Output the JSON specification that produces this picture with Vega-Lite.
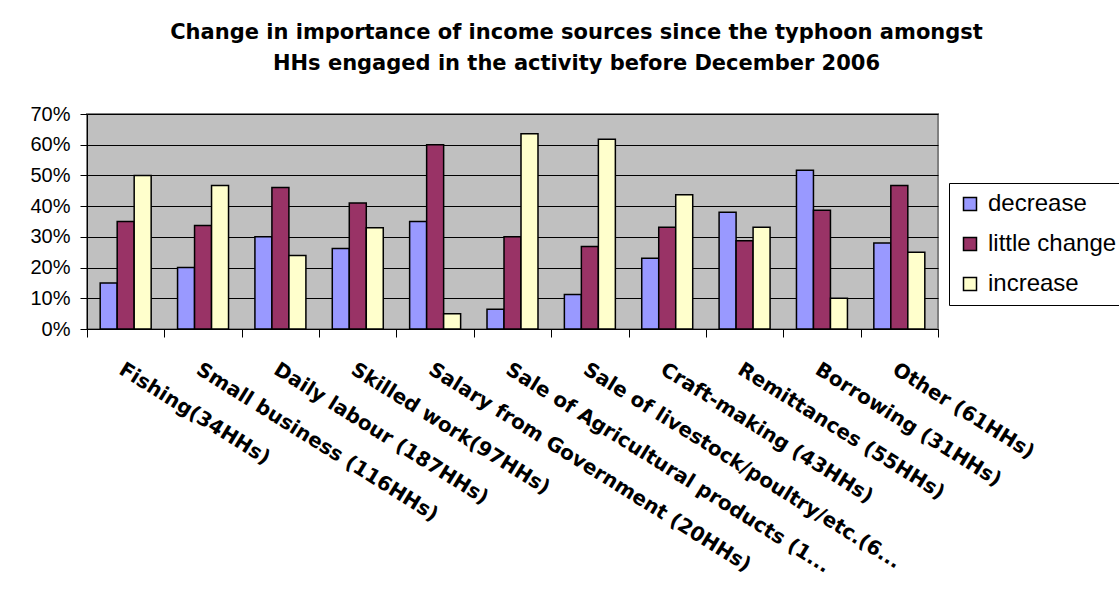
{
  "$schema": "https://vega.github.io/schema/vega-lite/v6.json",
  "width": 851,
  "height": 215,
  "autosize": {"type": "none"},
  "padding": {"left": 87, "top": 114, "right": 181, "bottom": 280},
  "background": "white",
  "title": {
    "text": ["Change in importance of income sources since the typhoon amongst", "HHs engaged in the activity before December 2006"],
    "font": "DejaVu Sans",
    "fontSize": 21,
    "fontWeight": "bold",
    "color": "black",
    "lineHeight": 31,
    "anchor": "middle",
    "dx": 64,
    "offset": 30
  },
  "data": {
    "values": [
      {"source": "Fishing(34HHs)", "change": "decrease", "share": 0.15},
      {"source": "Fishing(34HHs)", "change": "little change", "share": 0.35},
      {"source": "Fishing(34HHs)", "change": "increase", "share": 0.50},
      {"source": "Small business (116HHs)", "change": "decrease", "share": 0.20},
      {"source": "Small business (116HHs)", "change": "little change", "share": 0.337},
      {"source": "Small business (116HHs)", "change": "increase", "share": 0.467},
      {"source": "Daily labour (187HHs)", "change": "decrease", "share": 0.30},
      {"source": "Daily labour (187HHs)", "change": "little change", "share": 0.461},
      {"source": "Daily labour (187HHs)", "change": "increase", "share": 0.239},
      {"source": "Skilled work(97HHs)", "change": "decrease", "share": 0.262},
      {"source": "Skilled work(97HHs)", "change": "little change", "share": 0.41},
      {"source": "Skilled work(97HHs)", "change": "increase", "share": 0.33},
      {"source": "Salary from Government (20HHs)", "change": "decrease", "share": 0.35},
      {"source": "Salary from Government (20HHs)", "change": "little change", "share": 0.60},
      {"source": "Salary from Government (20HHs)", "change": "increase", "share": 0.05},
      {"source": "Sale of Agricultural products (1...", "change": "decrease", "share": 0.064},
      {"source": "Sale of Agricultural products (1...", "change": "little change", "share": 0.30},
      {"source": "Sale of Agricultural products (1...", "change": "increase", "share": 0.636},
      {"source": "Sale of livestock/poultry/etc.(6...", "change": "decrease", "share": 0.112},
      {"source": "Sale of livestock/poultry/etc.(6...", "change": "little change", "share": 0.269},
      {"source": "Sale of livestock/poultry/etc.(6...", "change": "increase", "share": 0.618},
      {"source": "Craft-making (43HHs)", "change": "decrease", "share": 0.23},
      {"source": "Craft-making (43HHs)", "change": "little change", "share": 0.331},
      {"source": "Craft-making (43HHs)", "change": "increase", "share": 0.437},
      {"source": "Remittances (55HHs)", "change": "decrease", "share": 0.38},
      {"source": "Remittances (55HHs)", "change": "little change", "share": 0.287},
      {"source": "Remittances (55HHs)", "change": "increase", "share": 0.331},
      {"source": "Borrowing (31HHs)", "change": "decrease", "share": 0.517},
      {"source": "Borrowing (31HHs)", "change": "little change", "share": 0.387},
      {"source": "Borrowing (31HHs)", "change": "increase", "share": 0.10},
      {"source": "Other (61HHs)", "change": "decrease", "share": 0.28},
      {"source": "Other (61HHs)", "change": "little change", "share": 0.467},
      {"source": "Other (61HHs)", "change": "increase", "share": 0.25}
    ]
  },
  "mark": {"type": "bar", "stroke": "black", "strokeWidth": 1.5},
  "encoding": {
    "x": {
      "field": "source",
      "type": "nominal",
      "sort": null,
      "scale": {"paddingInner": 0, "paddingOuter": 0},
      "axis": {
        "title": null,
        "tickBand": "extent",
        "tickSize": 8,
        "tickColor": "black",
        "domainColor": "black",
        "domainWidth": 1,
        "labelAngle": 32,
        "labelAlign": "left",
        "labelBaseline": "top",
        "labelFont": "DejaVu Sans",
        "labelFontSize": 20,
        "labelFontWeight": "bold",
        "labelColor": "black",
        "labelPadding": 22,
        "labelLimit": 0,
        "labelOverlap": false,
        "labelFlush": false,
        "labelBound": false
      }
    },
    "xOffset": {
      "field": "change",
      "type": "nominal",
      "sort": ["decrease", "little change", "increase"],
      "scale": {"paddingInner": 0, "paddingOuter": 0.776}
    },
    "y": {
      "field": "share",
      "type": "quantitative",
      "scale": {"domain": [0, 0.7], "nice": false},
      "axis": {
        "title": null,
        "values": [0, 0.1, 0.2, 0.3, 0.4, 0.5, 0.6, 0.7],
        "format": ".0%",
        "tickSize": 7,
        "tickColor": "black",
        "domainColor": "black",
        "domainWidth": 1,
        "gridColor": "black",
        "gridWidth": 1,
        "labelFont": "Liberation Sans",
        "labelFontSize": 20,
        "labelColor": "black",
        "labelPadding": 10
      }
    },
    "color": {
      "field": "change",
      "type": "nominal",
      "sort": ["decrease", "little change", "increase"],
      "scale": {"domain": ["decrease", "little change", "increase"], "range": ["#9999FF", "#993366", "#FFFFCC"]},
      "legend": {
        "title": null,
        "orient": "none",
        "legendX": 862,
        "legendY": 69,
        "padding": 9,
        "strokeColor": "black",
        "fillColor": "white",
        "symbolType": "square",
        "symbolSize": 169,
        "symbolStrokeColor": "black",
        "symbolStrokeWidth": 1.5,
        "symbolOpacity": 1,
        "labelFont": "Liberation Sans",
        "labelFontSize": 24,
        "labelColor": "black",
        "labelOffset": 6,
        "rowPadding": 16
      }
    }
  },
  "config": {
    "view": {"fill": "#C0C0C0", "stroke": "#808080", "strokeWidth": 2}
  }
}
